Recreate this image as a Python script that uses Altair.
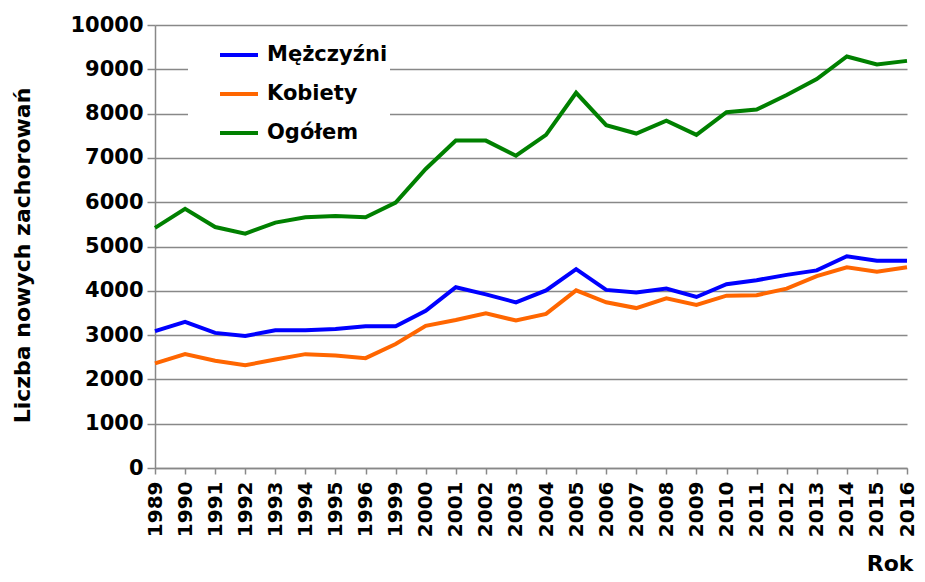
import altair as alt
import pandas as pd

years = ["1989", "1990", "1991", "1992", "1993", "1994", "1995", "1996", "1999",
         "2000", "2001", "2002", "2003", "2004", "2005", "2006", "2007", "2008",
         "2009", "2010", "2011", "2012", "2013", "2014", "2015", "2016"]

mezczyzni = [3090, 3300, 3050, 2980, 3110, 3110, 3140, 3200, 3200,
             3550, 4080, 3920, 3740, 4010, 4490, 4020, 3960, 4050,
             3860, 4150, 4240, 4360, 4460, 4780, 4680, 4680]

kobiety = [2360, 2570, 2420, 2320, 2450, 2570, 2540, 2480, 2800,
           3210, 3340, 3490, 3330, 3480, 4010, 3740, 3610, 3830,
           3680, 3890, 3900, 4050, 4330, 4530, 4430, 4530]

ogolem = [5420, 5850, 5440, 5290, 5540, 5660, 5690, 5660, 5990,
          6750, 7390, 7390, 7050, 7520, 8470, 7740, 7550, 7840,
          7520, 8030, 8090, 8420, 8780, 9290, 9110, 9190]

series_names = ["Mężczyźni", "Kobiety", "Ogółem"]
series_colors = ["#0000FF", "#FF6600", "#008000"]

rows = []
for name, vals in zip(series_names, [mezczyzni, kobiety, ogolem]):
    for y, v in zip(years, vals):
        rows.append({"Rok": y, "Wartość": v, "Seria": name})
df = pd.DataFrame(rows)

FONT = "DejaVu Sans"

chart = alt.Chart(df).mark_line(strokeWidth=4).encode(
    x=alt.X("Rok:O", sort=years, scale=alt.Scale(type="point", padding=0),
            axis=alt.Axis(title="Rok", labelAngle=270, labelAlign="right",
                          labelBaseline="middle", labelPadding=7, tickSize=6,
                          labelFont=FONT, labelFontSize=20, labelFontWeight="bold",
                          labelColor="black", domainColor="#888888", tickColor="#888888",
                          domainWidth=1.5, tickWidth=1.5, grid=False,
                          titleFont=FONT, titleFontSize=22, titleFontWeight="bold",
                          titleColor="black", titleAnchor="end", titleAlign="right",
                          titleX=758, titleY=102, titleBaseline="alphabetic")),
    y=alt.Y("Wartość:Q", scale=alt.Scale(domain=[0, 10000], nice=False),
            axis=alt.Axis(title="Liczba nowych zachorowań", format="d",
                          values=list(range(0, 10001, 1000)), tickSize=8, labelPadding=4,
                          labelFont=FONT, labelFontSize=21, labelFontWeight="bold",
                          labelColor="black", domainColor="#888888", tickColor="#888888",
                          domainWidth=1.5, tickWidth=1.5, gridColor="#888888", gridWidth=1.5,
                          titleFont=FONT, titleFontSize=22, titleFontWeight="bold",
                          titleColor="black", titleAngle=270, titleAlign="center",
                          titleBaseline="middle", titleX=-133, titleY=230)),
    color=alt.Color("Seria:N",
                    scale=alt.Scale(domain=series_names, range=series_colors),
                    legend=alt.Legend(title=None, orient="none", legendX=33, legendY=7,
                                      symbolType="stroke", symbolSize=1444,
                                      symbolStrokeWidth=4, rowPadding=8, padding=2,
                                      symbolOffset=28, labelOffset=7,
                                      labelFont=FONT, labelFontSize=21,
                                      labelFontWeight="bold", labelColor="black",
                                      fillColor="white")),
).properties(
    width=752, height=443,
    autosize=alt.AutoSizeParams(type="none"),
    padding={"left": 147, "top": 17, "right": 10, "bottom": 106},
).configure_view(stroke=None)

chart.save("out.html", embed_options={"renderer": "svg", "actions": False})
